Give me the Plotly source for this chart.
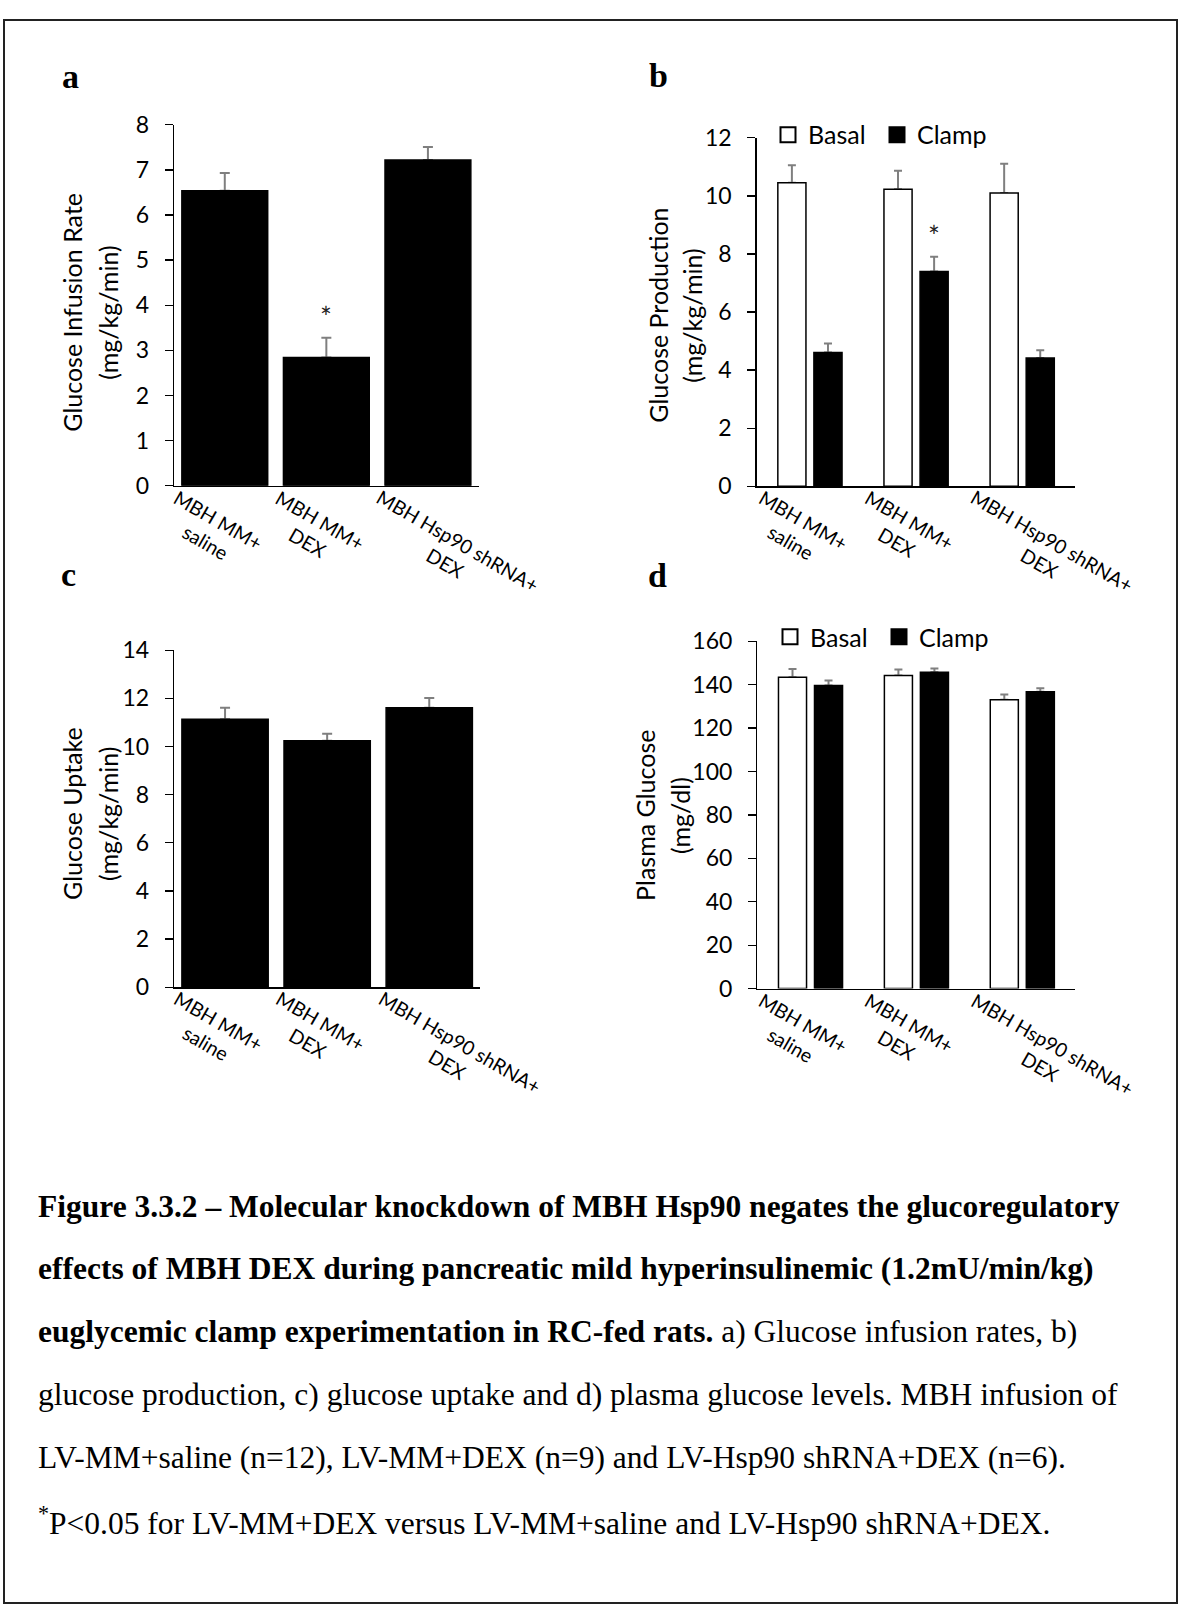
import plotly.graph_objects as go

# ---- data -------------------------------------------------------------
CATEGORIES = ["MBH MM+ saline", "MBH MM+ DEX", "MBH Hsp90 shRNA+ DEX"]
CATEGORY_LABELS = ["MBH MM+<br>saline", "MBH MM+<br>DEX", "MBH Hsp90 shRNA+<br>DEX"]

# a) glucose infusion rate (mg/kg/min)
gir_mean = [6.54, 2.84, 7.22]
gir_sem = [0.39, 0.44, 0.29]

# b) glucose production (mg/kg/min)
gp_basal_mean = [10.45, 10.23, 10.10]
gp_basal_sem = [0.61, 0.64, 1.01]
gp_clamp_mean = [4.61, 7.40, 4.42]
gp_clamp_sem = [0.31, 0.50, 0.26]

# c) glucose uptake (mg/kg/min)
gu_mean = [11.13, 10.24, 11.61]
gu_sem = [0.48, 0.29, 0.41]

# d) plasma glucose (mg/dl)
pg_basal_mean = [143.4, 144.2, 133.1]
pg_basal_sem = [3.8, 2.8, 2.4]
pg_clamp_mean = [139.6, 145.7, 136.8]
pg_clamp_sem = [2.3, 1.8, 1.6]

CAPTION_LINES = [
    "<b>Figure 3.3.2 \u2013 Molecular knockdown of MBH Hsp90 negates the glucoregulatory</b>",
    "<b>effects of MBH DEX during pancreatic mild hyperinsulinemic (1.2mU/min/kg)</b>",
    "<b>euglycemic clamp experimentation in RC-fed rats.</b> a) Glucose infusion rates, b)",
    "glucose production, c) glucose uptake and d) plasma glucose levels. MBH infusion of",
    "LV-MM+saline (n=12), LV-MM+DEX (n=9) and LV-Hsp90 shRNA+DEX (n=6).",
    "<sup>*</sup>P&lt;0.05 for LV-MM+DEX versus LV-MM+saline and LV-Hsp90 shRNA+DEX.",
]

# ---- page geometry ------------------------------------------------------
W, H = 1181, 1621
SANS = "Lato"
SERIF = "Liberation Serif"
TICK_SIZE = 23
TITLE_SIZE = 25
LEGEND_SIZE = 25
CAT_SIZE = 19.5
ERR_COLOR = "#7f7f7f"


def px(x):
    return x / W


def py(y):
    return 1 - y / H


# plot areas in page pixels: (left, right, top, bottom)
AREAS = {
    "a": (174, 478.7, 111.7, 479.0),
    "b": (756.6, 1075, 125.0, 479.5),
    "c": (174, 480.3, 646.4, 989.3),
    "d": (757.3, 1075, 637.3, 990.7),
}

fig = go.Figure()

# single bars (a, c) and paired bars (b, d)
SINGLE_W, SINGLE_OFF = 0.845, -0.4225
PAIR_W = 0.265
BASAL_OFF, CLAMP_OFF = -0.30, 0.04


def axis_names(ax):
    return (f"x{ax}", f"y{ax}") if ax > 1 else ("x", "y")


def add_bars(ax, means, sems, fill, offset, width, cap):
    xa, ya = axis_names(ax)
    # error bars first, so the bar body covers the base of each whisker
    fig.add_trace(go.Bar(
        x=CATEGORIES, y=means, xaxis=xa, yaxis=ya, offset=offset, width=width,
        marker=dict(color="rgba(0,0,0,0)", line=dict(width=0)),
        error_y=dict(type="data", array=sems, arrayminus=[0] * len(sems),
                     symmetric=False, color=ERR_COLOR, thickness=2, width=cap),
        showlegend=False, hoverinfo="skip",
    ))
    fig.add_trace(go.Bar(
        x=CATEGORIES, y=means, xaxis=xa, yaxis=ya, offset=offset, width=width,
        marker=dict(color=fill, line=dict(color="black", width=1.5)),
        showlegend=False, hoverinfo="skip",
    ))


def add_key(ax, name, fill, legend):
    # legend swatch for a bar series (square swatch, no data of its own)
    xa, ya = axis_names(ax)
    fig.add_trace(go.Scatter(
        x=[None], y=[None], xaxis=xa, yaxis=ya, mode="markers", name=name,
        marker=dict(symbol="square", size=15, color=fill,
                    line=dict(color="black", width=2)),
        legend=legend, showlegend=True, hoverinfo="skip",
    ))


add_bars(1, gir_mean, gir_sem, "black", SINGLE_OFF, SINGLE_W, 5)
add_bars(2, gp_basal_mean, gp_basal_sem, "white", BASAL_OFF, PAIR_W, 4)
add_bars(2, gp_clamp_mean, gp_clamp_sem, "black", CLAMP_OFF, PAIR_W, 4)
add_bars(3, gu_mean, gu_sem, "black", SINGLE_OFF, SINGLE_W, 5)
add_bars(4, pg_basal_mean, pg_basal_sem, "white", BASAL_OFF, PAIR_W, 4)
add_bars(4, pg_clamp_mean, pg_clamp_sem, "black", CLAMP_OFF, PAIR_W, 4)

add_key(2, "Basal", "white", "legend")
add_key(2, "Clamp", "black", "legend")
add_key(4, "Basal", "white", "legend2")
add_key(4, "Clamp", "black", "legend2")

Y_AXES = {"a": (8, 1), "b": (12, 2), "c": (14, 2), "d": (160, 20)}
layout_axes = {}
for i, key in enumerate("abcd", start=1):
    l, r, t, b = AREAS[key]
    ymax, dt = Y_AXES[key]
    sfx = "" if i == 1 else str(i)
    layout_axes[f"xaxis{sfx}"] = dict(
        domain=[px(l), px(r)], anchor=f"y{sfx}", type="category",
        categoryorder="array", categoryarray=CATEGORIES, range=[-0.5, 2.5],
        showline=True, linecolor="black", linewidth=1.3, ticks="",
        showticklabels=False, showgrid=False, zeroline=False, fixedrange=True,
    )
    layout_axes[f"yaxis{sfx}"] = dict(
        domain=[py(b), py(t)], anchor=f"x{sfx}", range=[0, ymax], dtick=dt,
        tick0=0, showline=True, linecolor="black", linewidth=1.3,
        ticks="outside", ticklen=8, tickwidth=1.3, tickcolor="black",
        ticklabelstandoff=11, showgrid=False, zeroline=False, fixedrange=True,
        tickfont=dict(family=SANS, size=TICK_SIZE, color="black"),
    )

annotations = []

# rotated category labels under each panel
for i in range(1, 5):
    sfx = "" if i == 1 else str(i)
    for cat, lab in zip(CATEGORIES, CATEGORY_LABELS):
        annotations.append(dict(
            x=cat, y=0, xref=f"x{sfx}", yref=f"y{sfx} domain",
            text=lab, textangle=30, showarrow=False, xanchor="left",
            yanchor="top", xshift=-70, yshift=3, align="center",
            font=dict(family=SANS, size=CAT_SIZE, color="black"),
        ))

# two-line y-axis titles
Y_TITLES = [
    ("Glucose Infusion Rate", "(mg/kg/min)", 72, 108, 303),
    ("Glucose Production", "(mg/kg/min)", 658, 692, 306),
    ("Glucose Uptake", "(mg/kg/min)", 72, 108, 813),
    ("Plasma Glucose", "(mg/dl)", 645, 680, 815),
]
for line1, line2, x1, x2, yc in Y_TITLES:
    for txt, xc in ((line1, x1), (line2, x2)):
        annotations.append(dict(
            x=px(xc), y=py(yc), xref="paper", yref="paper", text=txt,
            textangle=-90, showarrow=False, xanchor="center", yanchor="middle",
            font=dict(family=SANS, size=TITLE_SIZE, color="black"),
        ))

# significance markers above the whiskers
annotations.append(dict(
    x=CATEGORIES[1], y=gir_mean[1] + gir_sem[1], xref="x", yref="y", text="*",
    showarrow=False, yanchor="middle", yshift=21,
    font=dict(family=SANS, size=28, color="#222"),
))
annotations.append(dict(
    x=1 + CLAMP_OFF + PAIR_W / 2, y=gp_clamp_mean[1] + gp_clamp_sem[1],
    xref="x2", yref="y2", text="*", showarrow=False, yanchor="middle", yshift=21,
    font=dict(family=SANS, size=28, color="#222"),
))

# panel letters
for letter, xc, yc in (("a", 70, 63), ("b", 658, 62), ("c", 68, 569), ("d", 657, 570)):
    annotations.append(dict(
        x=px(xc), y=py(yc), xref="paper", yref="paper", text=f"<b>{letter}</b>",
        showarrow=False, xanchor="center", yanchor="middle",
        font=dict(family=SERIF, size=34, color="black"),
    ))

# caption
CAPTION_TOP, CAPTION_STEP = 1212, 64
for k, line in enumerate(CAPTION_LINES):
    annotations.append(dict(
        x=px(36), y=py(CAPTION_TOP + k * CAPTION_STEP), xref="paper", yref="paper",
        text=line, showarrow=False, xanchor="left", yanchor="middle", align="left",
        font=dict(family=SERIF, size=31.5, color="black"),
    ))

legend_style = dict(
    orientation="h", xref="paper", yref="paper", xanchor="left", yanchor="middle",
    font=dict(family=SANS, size=LEGEND_SIZE, color="black"),
    bgcolor="rgba(0,0,0,0)", borderwidth=0, itemclick=False, itemdoubleclick=False,
    itemsizing="trace", entrywidth=64, entrywidthmode="pixels",
)

fig.update_layout(
    width=W, height=H, autosize=False,
    margin=dict(l=0, r=0, t=0, b=0, pad=0),
    paper_bgcolor="white", plot_bgcolor="white",
    barmode="overlay", hovermode=False,
    legend=dict(x=px(768), y=py(122), **legend_style),
    legend2=dict(x=px(770), y=py(633), **legend_style),
    annotations=annotations,
    shapes=[dict(
        type="rect", xref="paper", yref="paper",
        x0=px(4), x1=px(1177), y0=py(1616), y1=py(5),
        line=dict(color="#222", width=2), fillcolor="rgba(0,0,0,0)", layer="above",
    )],
    **layout_axes,
)

fig.write_html("out.html", config={"displayModeBar": False, "staticPlot": True})
